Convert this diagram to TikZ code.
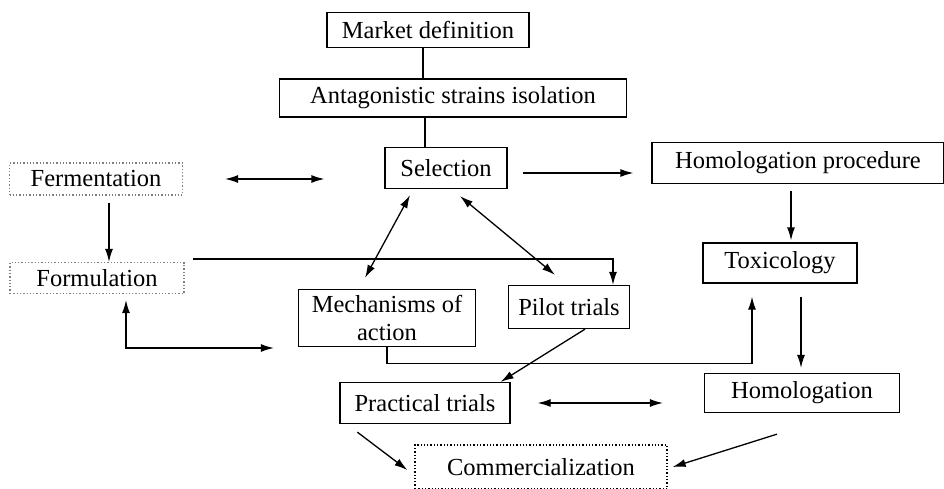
\documentclass[tikz,border=0pt]{standalone}
\usepackage{fontspec}
\setmainfont{Liberation Serif}
\usetikzlibrary{arrows.meta}

\begin{document}
\begin{tikzpicture}[x=1pt, y=-1pt, line width=1.3pt,
        >={Latex[length=13pt,width=8pt]},
        box/.style={draw, inner sep=0pt, font=\fontsize{24.5}{28}\selectfont},
        dotbox/.style={box, dotted, draw=gray}]
        \useasboundingbox (0, 0) rectangle (944, 488);

        % Draw the boxes of the chain
        \node[box, minimum width=202pt, minimum height=35pt] (market) at (428, 30) {Market definition};
        \node[box, minimum width=347pt, minimum height=38pt] (strains) at (453, 98) {Antagonistic strains isolation};
        \node[box, minimum width=122pt, minimum height=41pt] (sel) at (446, 168) {Selection};
        \node[box, minimum width=292pt, minimum height=41pt] (hproc) at (798, 163) {Homologation procedure};
        \node[dotbox, minimum width=173pt, minimum height=32pt] (ferm) at (96, 179) {Fermentation};
        \node[dotbox, minimum width=174pt, minimum height=31pt] (form) at (97, 278) {Formulation};
        \node[box, minimum width=177pt, minimum height=57pt, align=center] (mech) at (387, 318) {Mechanisms of\\action};
        \node[box, minimum width=121pt, minimum height=43pt] (pilot) at (569, 307) {Pilot trials};
        \node[box, minimum width=154pt, minimum height=40pt] (tox) at (780, 263) {Toxicology};
        \node[box, minimum width=195pt, minimum height=39pt] (homol) at (802, 393) {Homologation};
        \node[box, minimum width=170pt, minimum height=41pt] (pract) at (425, 403) {Practical trials};
        \node[dotbox, draw=black, minimum width=252pt, minimum height=44pt] (comm) at (541, 467) {Commercialization};

        % Draw the plain lines at the top
        \draw ([xshift=-5pt]market.south) -- ([xshift=-5pt]market.south |- strains.north);
        \draw ([xshift=-28pt]strains.south) -- ([xshift=-28pt]strains.south |- sel.north);

        % Draw the arrows around selection
        \draw[<->, shorten <=42pt, shorten >=60pt] (ferm.east) -- (ferm.east -| sel.west);
        \draw[->, shorten <=15pt, shorten >=18pt] ([yshift=-5pt]sel.east) -- ([yshift=-5pt]sel.east -| hproc.west);
        \draw[<->] ([shift={(-36pt,-6pt)}]sel.south) -- ([shift={(-22pt,11pt)}]mech.north);
        \draw[<->] ([shift={(14pt,-7pt)}]sel.south) -- ([shift={(-14pt,10pt)}]pilot.north);

        % Draw the arrows on the left side
        \draw[->, shorten <=7pt] ([xshift=13pt]ferm.south) -- ([xshift=13pt]ferm.south |- form.north);
        \draw[->] ([shift={(8pt,3pt)}]form.north east) -| ([xshift=44pt]pilot.north);
        \draw[<->] ([shift={(29pt,-6pt)}]form.south) |- ([shift={(-24pt,-30pt)}]mech.west);

        % Draw the homologation branch
        \draw[->] (mech.south) -- ++(0, 16) -| ([shift={(-28pt,-13pt)}]tox.south);
        \draw[->, shorten <=7pt, shorten >=2pt] ([xshift=-7pt]hproc.south) -- ([xshift=-7pt]hproc.south |- tox.north);
        \draw[->] ([shift={(21pt,-13pt)}]tox.south) -- ([shift={(-1pt,5pt)}]homol.north);

        % Draw the arrows at the bottom
        \draw[->] ([xshift=16pt]pilot.south) -- ([xshift=-10pt]pract.north east);
        \draw[<->, shorten <=27pt, shorten >=41pt] (pract.east) -- (pract.east -| homol.west);
        \draw[->] ([shift={(18pt,-8pt)}]pract.south west) -- ([shift={(-7pt,-3pt)}]comm.west);
        \draw[->] ([shift={(-25pt,-21pt)}]homol.south) -- ([xshift=5pt]comm.east);
    \end{tikzpicture}
\end{document}
